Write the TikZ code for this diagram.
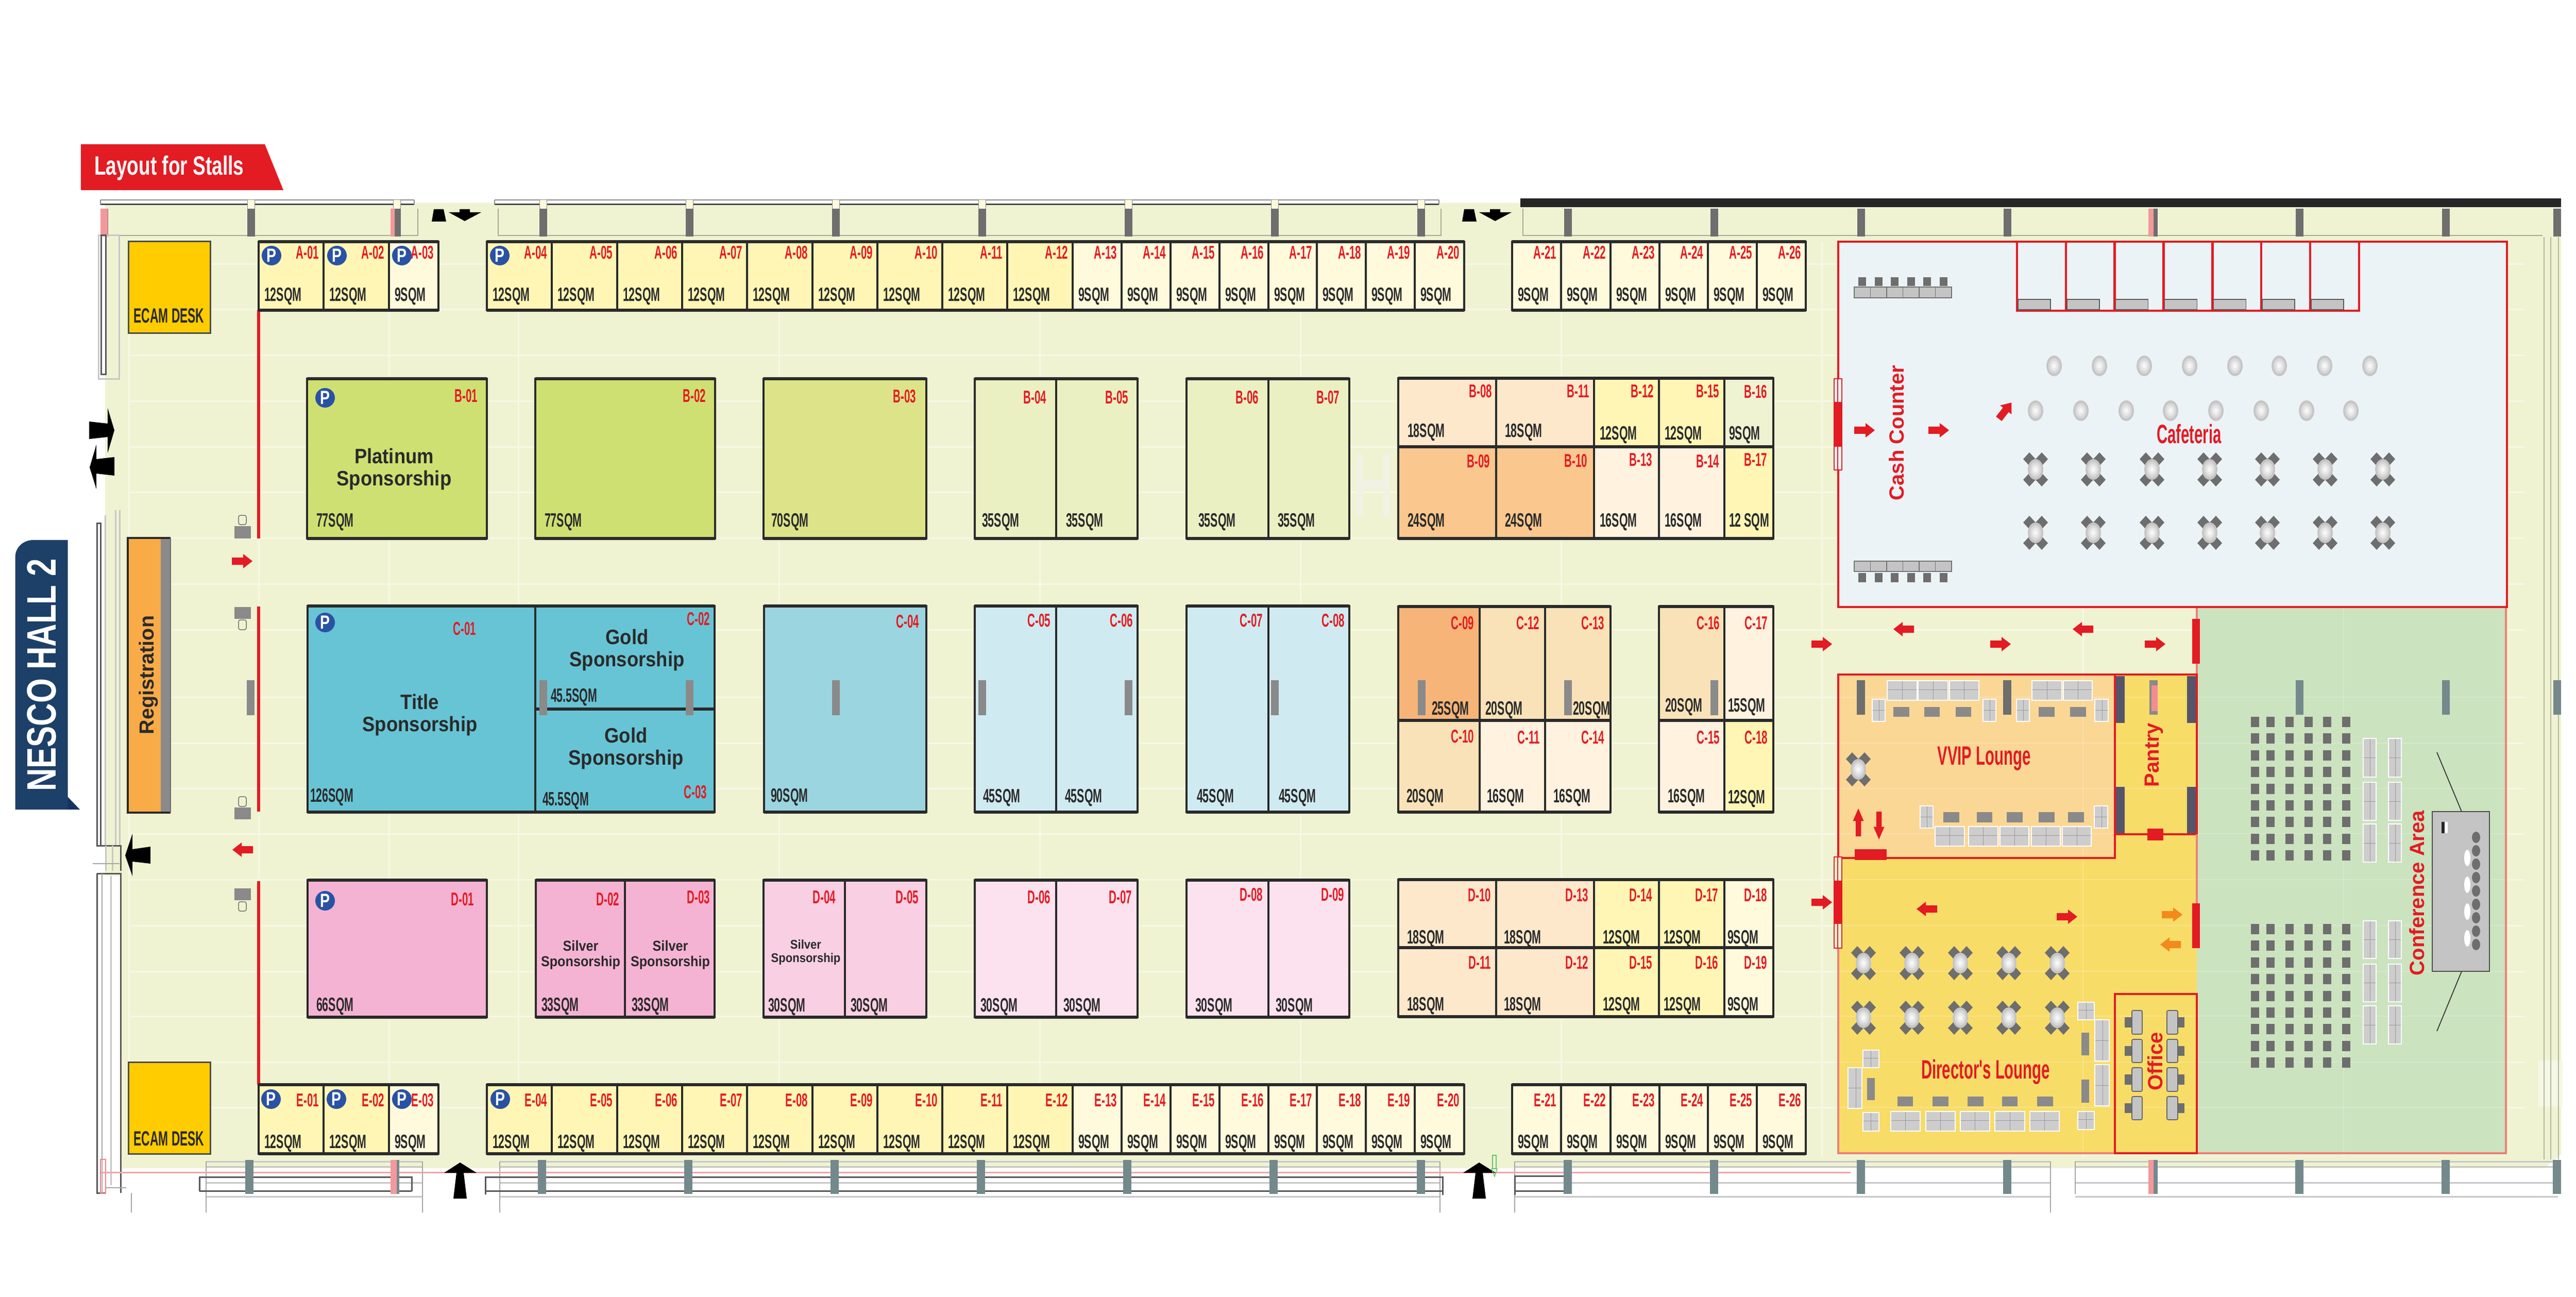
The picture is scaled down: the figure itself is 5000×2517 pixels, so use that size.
\documentclass[tikz,border=0pt]{standalone}
\usepackage{fontspec}
\setmainfont{Liberation Sans}
\newfontfamily\condf[FakeStretch=0.57]{Liberation Sans}
\newfontfamily\semif[FakeStretch=0.77]{Liberation Sans}
\newfontfamily\layf[FakeStretch=0.72]{Liberation Sans}
\newfontfamily\sponf[FakeStretch=0.9]{Liberation Sans}
\newfontfamily\widef{Liberation Sans}
\definecolor{floorc}{HTML}{EFF3D2}
\definecolor{gridc}{HTML}{F6F8E6}
\definecolor{hmark}{HTML}{F1F2E4}
\definecolor{redc}{HTML}{E31B23}
\definecolor{salmon}{HTML}{EE8078}
\definecolor{inkc}{HTML}{2A2A2A}
\definecolor{navy}{HTML}{1C4068}
\definecolor{navyd}{HTML}{153263}
\definecolor{pblue}{HTML}{2A52A4}
\definecolor{yA}{HTML}{FFF6B5}
\definecolor{yB}{HTML}{FFFADC}
\definecolor{pchA}{HTML}{FEE8CC}
\definecolor{pchB}{HTML}{FAC78E}
\definecolor{pchC}{HTML}{F7B478}
\definecolor{pchD}{HTML}{FAE2B8}
\definecolor{pchE}{HTML}{FFF2DF}
\definecolor{limeA}{HTML}{CFE072}
\definecolor{limeB}{HTML}{DCE388}
\definecolor{limeC}{HTML}{EBF0C2}
\definecolor{cyanA}{HTML}{67C4D4}
\definecolor{cyanB}{HTML}{9BD5E0}
\definecolor{cyanC}{HTML}{CFEBF1}
\definecolor{pinkA}{HTML}{F5B3D3}
\definecolor{pinkB}{HTML}{F9CFE3}
\definecolor{pinkC}{HTML}{FBE2EE}
\definecolor{cafe}{HTML}{ECF3F7}
\definecolor{vvip}{HTML}{FBD795}
\definecolor{lounge}{HTML}{F8DC68}
\definecolor{conf}{HTML}{CBE3BF}
\definecolor{greyA}{HTML}{8A8A8A}
\definecolor{greyB}{HTML}{6E6E6E}
\definecolor{greyC}{HTML}{C4C4C4}
\definecolor{pdark}{HTML}{55556A}
\definecolor{wallt}{HTML}{74898B}
\definecolor{ballA}{HTML}{C6C6C6}
\definecolor{ballB}{HTML}{D8D8D8}
\definecolor{ballC}{HTML}{E8E8E8}
\definecolor{ballD}{HTML}{F6F6F6}
\definecolor{ecamc}{HTML}{FFCC00}
\definecolor{regc}{HTML}{F9AB48}
\definecolor{orangec}{HTML}{F28A1C}
\tikzset{
  stallv/.style={draw=inkc,line width=0.9pt},
  stallh/.style={draw=inkc,line width=1.35pt},
  sid/.style={inner sep=0pt,text=redc,font=\condf\bfseries\fontsize{7.2}{8}\selectfont},
  ssz/.style={inner sep=0pt,text=inkc,font=\condf\bfseries\fontsize{7.5}{9}\selectfont},
  roomred/.style={inner sep=0pt,text=redc,font=\condf\bfseries\fontsize{10.3}{12}\selectfont},
  roomwide/.style={inner sep=0pt,text=redc,font=\widef\bfseries\fontsize{8}{10}\selectfont},
  spon/.style={inner sep=0pt,align=center,text=inkc,font=\sponf\bfseries\fontsize{8.1}{8.6}\selectfont},
  sponS/.style={inner sep=0pt,align=center,text=inkc,font=\sponf\bfseries\fontsize{5.6}{5.9}\selectfont},
  sponT/.style={inner sep=0pt,align=center,text=inkc,font=\sponf\bfseries\fontsize{4.9}{5.2}\selectfont},
  thinw/.style={draw=black!35,line width=0.35pt},
  darkw/.style={draw=black!65,line width=0.6pt},
  lightw/.style={draw=black!22,line width=0.6pt},
  redwall/.style={draw=redc,line width=0.9pt},
  salwall/.style={draw=salmon,line width=0.7pt},
}
\newcommand\cell[9]{%
  \fill[#5] (#1,#2) rectangle (#3,#4);
  \draw[stallv] (#1,#2) rectangle (#3,#4);
  \draw[stallh] (#1,#2) -- (#3,#2) (#1,#4) -- (#3,#4);
  \node[sid,anchor=base east] at (#7) {#6};
  \node[ssz,anchor=base west] at (#9) {#8};
}
\newcommand\pmark[2]{%
  \fill[pblue] (#1,#2) circle [radius=19];
  \node[inner sep=0pt,text=white,font=\semif\bfseries\fontsize{7.4}{8}\selectfont] at (#1,#2) {P};
}
\newcommand\pillar[1]{\fill[greyA] (#1-7.5,1320) rectangle (#1+7.5,1388);}
\newcommand\blockarrow[4]{% x y angle colour
  \begin{scope}[shift={(#1,#2)},rotate=#3]
    \fill[#4] (-20,-7) -- (2,-7) -- (2,-14) -- (20,0) -- (2,14) -- (2,7) -- (-20,7) -- cycle;
  \end{scope}
}
\newcommand\ball[2]{%
  \fill[ballA] (#1,#2) circle [x radius=15,y radius=20];
  \fill[ballB] (#1,#2) circle [x radius=11,y radius=15];
  \fill[ballC] (#1,#2) circle [x radius=7.5,y radius=10];
  \fill[ballD] (#1,#2) circle [x radius=4,y radius=5];
}
\newcommand\tset[2]{%
  \foreach \ddx in {-12,12}{\foreach \ddy in {-20,20}{
    \fill[greyB] (#1+\ddx-12,#2+\ddy) -- (#1+\ddx,#2+\ddy-13) -- (#1+\ddx+12,#2+\ddy) -- (#1+\ddx,#2+\ddy+13) -- cycle;
  }}
  \ball{#1}{#2}
}
\newcommand\sofaH[4]{%
  \fill[greyC!85!white] (#1,#2) rectangle (#3,#4);
  \draw[black!40,line width=0.15pt] ({(#1+#3)/2},#2) -- ({(#1+#3)/2},#4) (#1,{#2+(#4-#2)*0.45}) -- (#3,{#2+(#4-#2)*0.45});
  \draw[white,line width=0.5pt] (#1,#2) rectangle (#3,#4);
}
\newcommand\sofaV[4]{%
  \fill[greyC!85!white] (#1,#2) rectangle (#3,#4);
  \draw[black!40,line width=0.15pt] (#1,{(#2+#4)/2}) -- (#3,{(#2+#4)/2}) ({#1+(#3-#1)*0.55},#2) -- ({#1+(#3-#1)*0.55},#4);
  \draw[white,line width=0.5pt] (#1,#2) rectangle (#3,#4);
}
\newcommand\tbl[4]{\fill[greyA] (#1,#2) rectangle (#3,#4);}
\newcommand\kiosk[4]{% desk y1 y2, chair y1 y2
  \fill[greyA] (455,#1) rectangle (487,#2);
  \draw[black!55,fill=floorc,line width=0.3pt,rounded corners=0.7pt] (463,#3) rectangle (478,#4);
}
\newcommand\cashdesk[4]{%
  \foreach \ci in {0,...,5}{
    \fill[greyB] ({3607+31.5*\ci},#3) rectangle ({3622+31.5*\ci},#4);
    \draw[fill=greyC,draw=black!55,line width=0.25pt] ({3599+31.5*\ci},#1) rectangle ({3630.5+31.5*\ci},#2);
  }
}
\begin{document}
\begin{tikzpicture}[x=0.2pt,y=-0.2pt]
\useasboundingbox (0,0) rectangle (5000,2517);
\fill[white] (0,0) rectangle (5000,2517);
% floor
\fill[floorc] (204,394) -- (4971,394) -- (4971,2240) -- (4940,2267) -- (234,2267) -- (234,1700) -- (204,1700) -- cycle;
\fill[gridc] (4927,2058) rectangle (4974,2147);
% floor grid
\foreach \gy in {513,601,690,779,867,955,1044,1133,1222,1353,1442,1530,1618,1707,1796,1885,1972,2061,2149}
  \draw[gridc,line width=0.6pt] (250,\gy) -- (4900,\gy);
\foreach \gx in {250,502,755,1006,1512,2018,2524,3030,3536,4043,4549}
  \draw[gridc,line width=0.6pt] (\gx,470) -- (\gx,2245);
% faint mark
\fill[hmark] (2632,881) rectangle (2645,1001) (2684,881) rectangle (2697,1001) (2645,930) rectangle (2684,950);
% side lines right
\foreach \rx in {4938,4951,4966}
  \draw[black!25!floorc,line width=0.35pt] (\rx,460) -- (\rx,2250);
% ---------- top wall
\foreach \tx/\ty in {195/804,960/2793}{
  \fill[white] (\tx,388) rectangle (\ty,396);
  \draw[black!45,line width=0.4pt] (\tx,388) -- (\ty,388);
  \draw[black!70,line width=0.6pt] (\tx,397) -- (\ty,397);
  \draw[black!45,line width=0.3pt] (\tx,388) -- (\tx,397) (\ty,388) -- (\ty,397);
}
\fill[black!85] (2951,385) rectangle (4971,402);
\draw[black!30!floorc,line width=0.5pt] (195,457) -- (811,457) -- (811,405);
\draw[black!30!floorc,line width=0.5pt] (967,405) -- (967,457) -- (2797,457) -- (2797,405);
\draw[black!30!floorc,line width=0.5pt] (2956,405) -- (2956,457) -- (4935,457);
\foreach \cx in {487,770,1054,1338,1622,1906,2190,2474,2758}{
  \fill[yB] (\cx-7,388) rectangle (\cx+7,406);
  \draw[black!45,line width=0.2pt] (\cx-7,388) rectangle (\cx+7,406);
}
\foreach \cx in {202,487,770,1054,1338,1622,1906,2190,2474,2758,3043,3327,3612,3896,4180,4463,4747,4963}
  \fill[greyB] (\cx-7.5,405) rectangle (\cx+7.5,459);
\fill[redc!45] (195,405) rectangle (209,459) (758,405) rectangle (766,459) (4170,405) rectangle (4180,459);
% ---------- left walls
\draw[lightw] (191,457) rectangle (231,736);
\draw[darkw] (196,457) rectangle (205,727);
\draw[darkw] (188,1015) rectangle (195,1641);
\draw[darkw] (195,1641) -- (234,1641) -- (234,1690);
\draw[lightw] (204,1000) -- (204,1640) (224,990) -- (224,1640) (232,990) -- (232,1640);
\draw[lightw] (205,1641) -- (205,1690) (218,1641) -- (218,1690);
\draw[thinw] (180,1676) -- (232,1676);
\draw[darkw] (188,1695) -- (234,1695) -- (234,2315);
\draw[darkw] (188,1695) -- (188,2315) -- (204,2315);
\draw[thinw] (198,1695) -- (198,2315);
\draw[lightw] (215,1700) -- (215,2300);
\draw[thinw] (204,2305) -- (245,2305) (255,2315) -- (255,2353);
\draw[redc!55,line width=0.3pt] (195,2250) rectangle (205,2316);
% ---------- bottom wall
\foreach \xa/\xb in {400/820,970/2795,2940/3980}{
  \draw[lightw] (\xa,2254) -- (\xb,2254) (\xa,2264) -- (\xb,2264) (\xa,2295) -- (\xb,2295) (\xa,2322) -- (\xb,2322);
  \draw[thinw] (\xa,2254) -- (\xa,2353) (\xb,2254) -- (\xb,2353);
}
\draw[lightw] (4028,2254) -- (4965,2254) (4028,2264) -- (4965,2264) (4028,2295) -- (4965,2295) (4028,2322) -- (4965,2322);
\draw[thinw] (4028,2254) -- (4028,2317);
\draw[darkw] (387,2312) -- (387,2284) -- (799,2284) -- (799,2312);
\draw[darkw] (387,2311) -- (799,2311);
\draw[darkw] (942,2318) -- (942,2284) -- (2800,2284) -- (2800,2319);
\draw[darkw] (942,2311) -- (2800,2311);
\draw[darkw] (2940,2319) -- (2940,2282) -- (3035,2282) (2940,2311) -- (3035,2311);
\draw[redc!40,line width=0.6pt] (196,2275) -- (3592,2275);
\foreach \cx in {484,767,1052,1336,1620,1904,2188,2472,2758,3043,3327,3612,3896,4180,4463,4747,4963}
  \fill[wallt] (\cx-8,2251) rectangle (\cx+8,2317);
\fill[redc!45] (758,2251) rectangle (770,2317) (4170,2251) rectangle (4180,2317);
% ---------- door arrows
\foreach \sh in {0,2000}{
  \begin{scope}[shift={(\sh,0)}]
    \fill[black] (842,406) -- (861,406) -- (866,430) -- (838,430) -- cycle;
    \fill[black] (892,406) -- (912,406) -- (912,412) -- (934,412) -- (902,429) -- (871,412) -- (892,412) -- cycle;
  \end{scope}
}
\fill[black] (173,818) -- (209,822) -- (209,792) -- (222,835) -- (209,879) -- (209,848) -- (173,852) -- cycle;
\fill[black] (222,887) -- (187,891) -- (187,863) -- (174,907) -- (187,949) -- (187,919) -- (222,923) -- cycle;
\fill[black] (292,1643) -- (257,1648) -- (257,1618) -- (243,1660) -- (257,1700) -- (257,1672) -- (292,1676) -- cycle;
\foreach \sh in {0,1978}{
  \begin{scope}[shift={(\sh,0)}]
    \fill[black] (893,2256) -- (925,2276) -- (900,2276) -- (906,2326) -- (880,2326) -- (886,2276) -- (862,2276) -- cycle;
  \end{scope}
}
\draw[green!60!black!60,line width=0.3pt] (2897,2242) rectangle (2904,2268);
\draw[green!60!black!60,line width=0.3pt] (2895,2268) -- (2906,2268) -- (2901,2283) -- cycle;
% ---------- title tags
\fill[redc] (157,280) -- (514,280) -- (550,369) -- (157,369) -- cycle;
\node[inner sep=0pt,anchor=base west,text=white,font=\layf\bfseries\fontsize{10.3}{12}\selectfont] at (182,340) {Layout for Stalls};
\fill[navyd] (131,1546) -- (155,1571) -- (131,1571) -- cycle;
\fill[navy] (131.5,1048) -- (65,1048) .. controls (45,1048) and (29.5,1062) .. (29.5,1082) -- (29.5,1571) -- (131.5,1571) -- cycle;
\node[inner sep=0pt,anchor=base,rotate=90,text=white,font=\semif\bfseries\fontsize{16}{18}\selectfont] at (109,1310) {NESCO HALL 2};
% ---------- ECAM + Registration
\foreach \ey/\ez/\et in {469/647/621,2061/2239/2217}{
  \fill[ecamc] (249,\ey) rectangle (408,\ez);
  \draw[draw=black!70,line width=0.6pt] (249,\ey) rectangle (408,\ez);
  \node[inner sep=0pt,anchor=base,text=inkc,font=\condf\bfseries\fontsize{8}{9}\selectfont] at (328,\et+6) {ECAM DESK};
}
\fill[regc] (248,1044) rectangle (312,1577);
\fill[greyA] (312,1044) rectangle (331,1577);
\draw[inkc,line width=0.8pt] (331,1044) -- (248,1044) -- (248,1577) -- (331,1577);
\draw[greyB,line width=0.3pt] (331,1044) -- (331,1577);
\node[inner sep=0pt,anchor=base,rotate=90,text=inkc,font=\widef\bfseries\fontsize{7.9}{9}\selectfont] at (298,1310) {Registration};
% ---------- red partition, kiosks, entrance
\draw[redc,line width=1.2pt] (502,602) -- (502,1045) (502,1177) -- (502,1575) (502,1710) -- (502,2105);
\kiosk{1021}{1045}{1000}{1018}
\kiosk{1178}{1201}{1203}{1222}
\kiosk{1567}{1590}{1546}{1565}
\kiosk{1724}{1747}{1750}{1768}
\blockarrow{470}{1089}{0}{redc}
\blockarrow{471}{1649}{180}{redc}
% ---------- rows A and E
\foreach \xa/\xb/\nn/\sq in {502/628/01/12,628/755/02/12,755/851/03/9,945/1071/04/12,1071/1198/05/12,1198/1324/06/12,1324/1450/07/12,1450/1577/08/12,1577/1703/09/12,1703/1829/10/12,1829/1955/11/12,1955/2082/12/12,2082/2177/13/9,2177/2272/14/9,2272/2367/15/9,2367/2462/16/9,2462/2556/17/9,2556/2651/18/9,2651/2746/19/9,2746/2842/20/9,2935/3030/21/9,3030/3126/22/9,3126/3221/23/9,3221/3315/24/9,3315/3410/25/9,3410/3505/26/9}{
  \ifnum\sq=12 \def\cc{yA}\else\def\cc{yB}\fi
  \cell{\xa}{469}{\xb}{602}{\cc}{A-\nn}{\xb-8,503}{\sq SQM}{\xa+10,585}
  \cell{\xa}{2105}{\xb}{2239}{\cc}{E-\nn}{\xb-8,2147}{\sq SQM}{\xa+10,2228}
}
\pmark{527}{496}\pmark{654}{496}\pmark{780}{496}\pmark{970}{496}
\pmark{526}{2133}\pmark{653}{2133}\pmark{780}{2133}\pmark{971}{2133}
% ---------- row B
\cell{596}{735}{945}{1045}{limeA}{B-01}{928,781}{77SQM}{613,1022}
\cell{1039}{735}{1388}{1045}{limeA}{B-02}{1371,781}{77SQM}{1056,1022}
\cell{1482}{735}{1798}{1045}{limeB}{B-03}{1779,782}{70SQM}{1496,1022}
\cell{1892}{735}{2050}{1045}{limeC}{B-04}{2032,784}{35SQM}{1905,1022}
\cell{2050}{735}{2208}{1045}{limeC}{B-05}{2191,784}{35SQM}{2068,1022}
\cell{2303}{735}{2462}{1045}{limeC}{B-06}{2444,784}{35SQM}{2325,1022}
\cell{2462}{735}{2619}{1045}{limeC}{B-07}{2601,784}{35SQM}{2479,1022}
\pmark{631}{772}
\node[spon] at (765,911) {Platinum\\Sponsorship};
\cell{2714}{734}{2904}{867}{pchA}{B-08}{2897,771}{18SQM}{2731,849}
\cell{2904}{734}{3094}{867}{pchA}{B-11}{3086,771}{18SQM}{2920,849}
\cell{3094}{734}{3220}{867}{yA}{B-12}{3211,771}{12SQM}{3104,854}
\cell{3220}{734}{3347}{867}{yA}{B-15}{3338,771}{12SQM}{3230,854}
\cell{3347}{734}{3442}{867}{floorc}{B-16}{3431,773}{9SQM}{3355,854}
\cell{2714}{867}{2904}{1045}{pchB}{B-09}{2893,908}{24SQM}{2731,1022}
\cell{2904}{867}{3094}{1045}{pchB}{B-10}{3082,906}{24SQM}{2920,1022}
\cell{3094}{867}{3220}{1045}{pchE}{B-13}{3208,905}{16SQM}{3104,1022}
\cell{3220}{867}{3347}{1045}{pchE}{B-14}{3338,908}{16SQM}{3230,1022}
\cell{3347}{867}{3442}{1045}{yA}{B-17}{3431,905}{12 SQM}{3355,1022}
% ---------- row C
\cell{597}{1176}{1039}{1576}{cyanA}{C-01}{925,1232}{126SQM}{601,1556}
\cell{1039}{1176}{1387}{1376}{cyanA}{C-02}{1379,1213}{45.5SQM}{1068,1362}
\cell{1039}{1376}{1387}{1576}{cyanA}{C-03}{1373,1549}{45.5SQM}{1052,1563}
\cell{1483}{1176}{1798}{1576}{cyanB}{C-04}{1785,1218}{90SQM}{1495,1556}
\cell{1892}{1176}{2050}{1576}{cyanC}{C-05}{2040,1216}{45SQM}{1907,1557}
\cell{2050}{1176}{2208}{1576}{cyanC}{C-06}{2200,1216}{45SQM}{2066,1557}
\cell{2303}{1176}{2462}{1576}{cyanC}{C-07}{2452,1216}{45SQM}{2322,1557}
\cell{2462}{1176}{2619}{1576}{cyanC}{C-08}{2611,1216}{45SQM}{2481,1557}
\pmark{631}{1208}
\node[spon] at (815,1388) {Title\\Sponsorship};
\node[spon] at (1217,1262) {Gold\\Sponsorship};
\node[spon] at (1215,1453) {Gold\\Sponsorship};
\cell{2714}{1177}{2872}{1398}{pchC}{C-09}{2862,1221}{25SQM}{2778,1387}
\cell{2872}{1177}{2999}{1398}{pchD}{C-12}{2989,1221}{20SQM}{2882,1387}
\cell{2999}{1177}{3126}{1398}{pchD}{C-13}{3115,1221}{20SQM}{3052,1387}
\cell{2714}{1398}{2872}{1576}{pchD}{C-10}{2862,1441}{20SQM}{2729,1557}
\cell{2872}{1398}{2999}{1576}{pchE}{C-11}{2990,1443}{16SQM}{2885,1557}
\cell{2999}{1398}{3126}{1576}{pchE}{C-14}{3115,1443}{16SQM}{3014,1557}
\cell{3220}{1177}{3347}{1398}{pchD}{C-16}{3339,1221}{20SQM}{3231,1381}
\cell{3347}{1177}{3442}{1398}{pchE}{C-17}{3432,1221}{15SQM}{3353,1381}
\cell{3220}{1398}{3347}{1576}{pchE}{C-15}{3339,1443}{16SQM}{3236,1557}
\cell{3347}{1398}{3442}{1576}{yA}{C-18}{3432,1443}{12SQM}{3353,1559}
% pillars
\foreach \px in {486,1054,1338,1622,1906,2190,2474,2759,3043,3327}\pillar{\px}
% ---------- row D
\cell{597}{1708}{945}{1974}{pinkA}{D-01}{921,1757}{66SQM}{613,1962}
\cell{1040}{1708}{1213}{1974}{pinkA}{D-02}{1203,1757}{33SQM}{1050,1962}
\cell{1213}{1708}{1387}{1974}{pinkA}{D-03}{1379,1753}{33SQM}{1225,1962}
\cell{1482}{1708}{1640}{1974}{pinkB}{D-04}{1623,1753}{30SQM}{1490,1963}
\cell{1640}{1708}{1798}{1974}{pinkB}{D-05}{1784,1753}{30SQM}{1650,1963}
\cell{1892}{1708}{2050}{1974}{pinkC}{D-06}{2040,1753}{30SQM}{1902,1963}
\cell{2050}{1708}{2208}{1974}{pinkC}{D-07}{2198,1753}{30SQM}{2063,1963}
\cell{2303}{1708}{2462}{1974}{pinkC}{D-08}{2452,1748}{30SQM}{2319,1963}
\cell{2462}{1708}{2619}{1974}{pinkC}{D-09}{2610,1748}{30SQM}{2475,1963}
\pmark{631}{1748}
\node[sponS] at (1127,1853) {Silver\\Sponsorship};
\node[sponS] at (1301,1853) {Silver\\Sponsorship};
\node[sponT] at (1564,1848) {Silver\\Sponsorship};
\cell{2714}{1707}{2904}{1839}{pchA}{D-10}{2895,1749}{18SQM}{2730,1831}
\cell{2904}{1707}{3094}{1839}{pchA}{D-13}{3084,1749}{18SQM}{2918,1831}
\cell{3094}{1707}{3220}{1839}{yA}{D-14}{3208,1749}{12SQM}{3110,1831}
\cell{3220}{1707}{3347}{1839}{yA}{D-17}{3336,1749}{12SQM}{3228,1831}
\cell{3347}{1707}{3442}{1839}{yB}{D-18}{3431,1749}{9SQM}{3352,1831}
\cell{2714}{1839}{2904}{1973}{pchA}{D-11}{2895,1880}{18SQM}{2730,1961}
\cell{2904}{1839}{3094}{1973}{pchA}{D-12}{3084,1880}{18SQM}{2918,1961}
\cell{3094}{1839}{3220}{1973}{yA}{D-15}{3208,1880}{12SQM}{3110,1961}
\cell{3220}{1839}{3347}{1973}{yA}{D-16}{3336,1880}{12SQM}{3228,1961}
\cell{3347}{1839}{3442}{1973}{yB}{D-19}{3431,1880}{9SQM}{3352,1961}
% ---------- rooms fills
\fill[conf] (4264,1178) rectangle (4864,2238);
\fill[lounge] (3568,1665) -- (4105,1665) -- (4105,1309) -- (4264,1309) -- (4264,2238) -- (3568,2238) -- cycle;
\fill[vvip] (3568,1309) rectangle (4105,1665);
\fill[cafe] (3568,469) rectangle (4866,1178);
% faint grid showing through the rooms
\foreach \gy in {1353,1442,1530,1618,1707,1796,1885,1972,2061,2149}
  \draw[white,opacity=0.2,line width=0.5pt] (3570,\gy) -- (4862,\gy);
\foreach \gx in {4043,4549}
  \draw[white,opacity=0.2,line width=0.5pt] (\gx,1182) -- (\gx,2236);
% conference borders
\draw[salwall] (4264,1178) -- (4264,1309) (4864,1178) -- (4864,2238) -- (3568,2238) -- (3568,1665);
% conference columns
\foreach \cx in {4463,4747}\fill[wallt] (\cx-7.5,1320) rectangle (\cx+7.5,1387);
\fill[wallt] (4955.5,1320) rectangle (4970.5,1387);
% seats
\foreach \sx in {4369,4399,4436,4473,4509,4546}{
  \foreach \sr in {0,...,8}{
    \fill[greyB] (\sx,{1391+32.4*\sr}) rectangle (\sx+16,{1411+32.4*\sr});
    \fill[greyB] (\sx,{1793+32.4*\sr}) rectangle (\sx+16,{1813+32.4*\sr});
  }
}
\foreach \sya/\syb in {1433/1508,1518/1592,1599/1673,1787/1860,1871/1944,1952/2026}{
  \sofaV{4587}{\sya}{4612}{\syb}
  \sofaV{4636}{\sya}{4661}{\syb}
}
% stage
\draw[black!80,line width=0.35pt] (4778,1575) -- (4730,1460) (4778,1885) -- (4730,2001);
\draw[fill=greyC,draw=black!70,line width=0.5pt] (4721,1575) rectangle (4832,1885);
\foreach \si in {0,...,8}\fill[greyB] (4806,{1625+26*\si}) circle [x radius=8,y radius=11];
\foreach \sy in {1665,1717,1769,1821}\fill[white] (4789,\sy) circle [x radius=6,y radius=16];
\fill[black!85] (4739,1595) rectangle (4745,1617);
\fill[white] (4745,1595) rectangle (4751,1617);
\node[roomwide,rotate=90] at (4691,1733) {Conference Area};
% ---------- cafeteria
\foreach \ki in {0,...,6}{
  \draw[redwall,fill=cafe] ({3915+94.8*\ki},469) rectangle ({4010+94.8*\ki},603);
  \draw[fill=greyC,draw=black!65,line width=0.3pt] ({3917+94.8*\ki},581) rectangle ({3980+94.8*\ki},601);
}
\draw[redwall] (3568,469) rectangle (4866,1178);
\cashdesk{557}{578}{538}{555}
\cashdesk{1089}{1109}{1112}{1130}
\foreach \bx in {3987,4075,4162,4250,4338,4424,4512,4600}{\ball{\bx}{710}}
\foreach \bx in {3951,4039,4127,4213,4301,4389,4477,4563}{\ball{\bx}{797}}
\foreach \bx in {3951,4063,4177,4289,4401,4513,4625}{\tset{\bx}{911}\tset{\bx}{1034}}
\node[roomred,anchor=base] at (4249,861) {Cafeteria};
\node[roomwide,rotate=90] at (3681,840) {Cash Counter};
\draw[redc,line width=0.35pt,fill=cafe] (3560,735) rectangle (3575,912);
\draw[redc,line width=0.35pt] (3567,735) -- (3567,780) (3567,867) -- (3567,912);
\fill[redc] (3560,780) rectangle (3575,867);
\blockarrow{3619}{835}{0}{redc}
\blockarrow{3763}{835}{0}{redc}
\blockarrow{3892}{797}{52}{redc}
% corridor
\blockarrow{3536}{1250}{0}{redc}
\blockarrow{3695}{1221}{180}{redc}
\blockarrow{3883}{1250}{0}{redc}
\blockarrow{4043}{1221}{180}{redc}
\blockarrow{4183}{1250}{0}{redc}
\fill[redc] (4255,1201) rectangle (4270,1288);
% ---------- VVIP
\draw[redwall] (3568,1309) rectangle (4105,1665);
\draw[redwall] (4105,1309) rectangle (4264,1619);
\foreach \cx in {3612,3896}\fill[greyB] (\cx-8,1320) rectangle (\cx+8,1387);
\fill[greyA] (4172,1320) rectangle (4188,1387);
\fill[redc!50] (4176,1330) rectangle (4188,1380);
\foreach \sa/\sb in {3663/3721,3723/3781,3784/3841,3944/4002,4005/4061}{\sofaH{\sa}{1321}{\sb}{1359}}
\foreach \sa/\sb in {3634/3659,3849/3874,3914/3939,4066/4092}{\sofaV{\sa}{1357}{\sb}{1400}}
\foreach \sa/\sb in {3675/3706,3735/3765,3796/3826,3957/3988,4018/4049}{\tbl{\sa}{1372}{\sb}{1391}}
\foreach \sa/\sb in {3756/3813,3821/3878,3882/3938,3943/3999,4003/4059}{\sofaH{\sa}{1604}{\sb}{1642}}
\foreach \sa/\sb in {3772/3803,3837/3867,3895/3926,3957/3988,4014/4045}{\tbl{\sa}{1576}{\sb}{1596}}
\foreach \sa/\sb in {3727/3752,4065/4091}{\sofaV{\sa}{1564}{\sb}{1607}}
\tset{3607}{1493}
\node[roomred,anchor=base] at (3851,1484) {VVIP Lounge};
\begin{scope}[shift={(3607,1596)},rotate=90,xscale=1.35,yscale=.75]
  \fill[redc] (-20,-7) -- (2,-7) -- (2,-14) -- (20,0) -- (2,14) -- (2,7) -- (-20,7) -- cycle;
\end{scope}
\begin{scope}[shift={(3647,1602)},rotate=-90,xscale=1.35,yscale=.75]
  \fill[redc] (-20,-7) -- (2,-7) -- (2,-14) -- (20,0) -- (2,14) -- (2,7) -- (-20,7) -- cycle;
\end{scope}
\fill[redc] (3600,1648) rectangle (3662,1669);
% ---------- pantry
\foreach \px in {4107,4245}{
  \fill[pdark] (\px,1312) rectangle (\px+17,1403);
  \fill[pdark] (\px,1527) rectangle (\px+17,1617);
}
\fill[redc] (4168,1608) rectangle (4199,1631);
\node[roomwide,rotate=90] at (4181,1465) {Pantry};
% ---------- director's lounge
\draw[redc,line width=0.35pt,fill=floorc] (3560,1663) rectangle (3575,1840);
\fill[redc] (3560,1709) rectangle (3575,1793);
\draw[redc,line width=0.35pt] (3567,1663) -- (3567,1709) (3567,1793) -- (3567,1840);
\blockarrow{3536}{1751}{0}{redc}
\blockarrow{3740}{1764}{180}{redc}
\blockarrow{4012}{1779}{0}{redc}
\blockarrow{4216}{1775}{0}{orangec}
\blockarrow{4213}{1833}{180}{orangec}
\fill[redc] (4255,1753) rectangle (4270,1840);
\draw[salwall] (4264,1619) -- (4264,1753);
\foreach \bx in {3617,3711,3805,3899,3993}{\tset{\bx}{1869}\tset{\bx}{1975}}
\foreach \sa/\sb in {3670/3727,3738/3795,3805/3862,3872/3930,3940/3997}{\sofaH{\sa}{2157}{\sb}{2195}}
\foreach \sa/\sb in {3683/3713,3751/3782,3819/3850,3886/3916,3954/3985}{\tbl{\sa}{2128}{\sb}{2147}}
\sofaV{3587}{2072}{3614}{2151}
\sofaH{3616}{2038}{3647}{2072}
\sofaH{3616}{2159}{3647}{2195}
\tbl{3624}{2092}{3639}{2135}
\sofaH{4033}{1945}{4065}{1979}
\sofaH{4033}{2157}{4065}{2192}
\sofaV{4066}{1979}{4094}{2059}
\sofaV{4066}{2066}{4094}{2146}
\tbl{4040}{2004}{4055}{2048}
\tbl{4040}{2095}{4055}{2140}
\node[roomred,anchor=base] at (3854,2093) {Director's Lounge};
% ---------- office
\draw[redwall] (4105,1929) rectangle (4264,2238);
\foreach \dya/\dyb in {1961/2007,2017/2062,2072/2118,2128/2173}{
  \fill[greyB] (4124,{\dya+13}) rectangle (4137,{\dyb-13});
  \fill[greyB] (4228,{\dya+13}) rectangle (4240,{\dyb-13});
  \draw[fill=greyC,draw=black!60,line width=0.35pt,rounded corners=0.5pt] (4138,\dya) rectangle (4158,\dyb);
  \draw[fill=greyC,draw=black!60,line width=0.35pt,rounded corners=0.5pt] (4206,\dya) rectangle (4227,\dyb);
}
\node[roomwide,rotate=90] at (4183,2060) {Office};
\end{tikzpicture}
\end{document}
